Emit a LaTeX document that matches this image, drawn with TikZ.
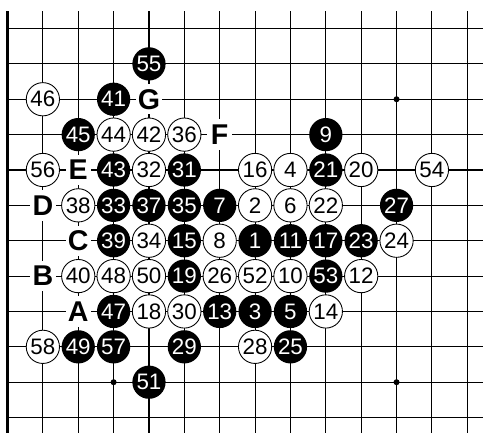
\documentclass[tikz,border=0pt]{standalone}
\usepackage{fontspec}
\setmainfont{Liberation Sans}
\begin{document}
\begin{tikzpicture}[
        x=1cm, y=-1cm,
        every node/.style={font=\fontsize{18}{20}\selectfont, inner sep=0pt},
        gridline/.style={line width=0.9pt, black},
        edgeline/.style={line width=2.4pt, black},
        wstone/.style={circle, draw=black, line width=0.7pt, fill=white, minimum size=0.94cm},
        bstone/.style={circle, fill=black, text=white, minimum size=0.94cm},
        letter/.style={rectangle, fill=white, minimum width=0.72cm, minimum height=0.86cm, font=\fontsize{23}{25}\selectfont\bfseries},
        hoshi/.style={circle, fill=black, minimum size=0.17cm}
    ]
        \useasboundingbox (-0.212,-0.806) rectangle (13.444,11.436);

        % Tablero: lineas y borde izquierdo
        \foreach \r in {0,...,11}
            \draw[gridline] (0,\r) -- (13.444,\r);
        \foreach \c in {1,...,13}
            \draw[gridline] (\c,-0.495) -- (\c,11.436);
        \draw[edgeline] (0,-0.495) -- (0,11.436);

        % Hoshi
        \node[hoshi] (h1) at (3,2) {};
        \node[hoshi] (h2) at (11,2) {};
        \node[hoshi] (h3) at (7,6) {};
        \node[hoshi] (h4) at (3,10) {};
        \node[hoshi] (h5) at (11,10) {};

        % Fila 1-3
        \node[bstone] (m55) at (4,1) {55};
        \node[wstone] (m46) at (1,2) {46};
        \node[bstone] (m41) at (3,2) {41};
        \node[letter] (lG) at (4,2) {G};
        \node[bstone] (m45) at (2,3) {45};
        \node[wstone] (m44) at (3,3) {44};
        \node[wstone] (m42) at (4,3) {42};
        \node[wstone] (m36) at (5,3) {36};
        \node[letter] (lF) at (6,3) {F};
        \node[bstone] (m9)  at (9,3) {9};

        % Fila 4
        \node[wstone] (m56) at (1,4) {56};
        \node[letter] (lE) at (2,4) {E};
        \node[bstone] (m43) at (3,4) {43};
        \node[wstone] (m32) at (4,4) {32};
        \node[bstone] (m31) at (5,4) {31};
        \node[wstone] (m16) at (7,4) {16};
        \node[wstone] (m4)  at (8,4) {4};
        \node[bstone] (m21) at (9,4) {21};
        \node[wstone] (m20) at (10,4) {20};
        \node[wstone] (m54) at (12,4) {54};

        % Fila 5
        \node[letter] (lD) at (1,5) {D};
        \node[wstone] (m38) at (2,5) {38};
        \node[bstone] (m33) at (3,5) {33};
        \node[bstone] (m37) at (4,5) {37};
        \node[bstone] (m35) at (5,5) {35};
        \node[bstone] (m7)  at (6,5) {7};
        \node[wstone] (m2)  at (7,5) {2};
        \node[wstone] (m6)  at (8,5) {6};
        \node[wstone] (m22) at (9,5) {22};
        \node[bstone] (m27) at (11,5) {27};

        % Fila 6
        \node[letter] (lC) at (2,6) {C};
        \node[bstone] (m39) at (3,6) {39};
        \node[wstone] (m34) at (4,6) {34};
        \node[bstone] (m15) at (5,6) {15};
        \node[wstone] (m8)  at (6,6) {8};
        \node[bstone] (m1)  at (7,6) {1};
        \node[bstone] (m11) at (8,6) {11};
        \node[bstone] (m17) at (9,6) {17};
        \node[bstone] (m23) at (10,6) {23};
        \node[wstone] (m24) at (11,6) {24};

        % Fila 7
        \node[letter] (lB) at (1,7) {B};
        \node[wstone] (m40) at (2,7) {40};
        \node[wstone] (m48) at (3,7) {48};
        \node[wstone] (m50) at (4,7) {50};
        \node[bstone] (m19) at (5,7) {19};
        \node[wstone] (m26) at (6,7) {26};
        \node[wstone] (m52) at (7,7) {52};
        \node[wstone] (m10) at (8,7) {10};
        \node[bstone] (m53) at (9,7) {53};
        \node[wstone] (m12) at (10,7) {12};

        % Fila 8
        \node[letter] (lA) at (2,8) {A};
        \node[bstone] (m47) at (3,8) {47};
        \node[wstone] (m18) at (4,8) {18};
        \node[wstone] (m30) at (5,8) {30};
        \node[bstone] (m13) at (6,8) {13};
        \node[bstone] (m3)  at (7,8) {3};
        \node[bstone] (m5)  at (8,8) {5};
        \node[wstone] (m14) at (9,8) {14};

        % Fila 9-10
        \node[wstone] (m58) at (1,9) {58};
        \node[bstone] (m49) at (2,9) {49};
        \node[bstone] (m57) at (3,9) {57};
        \node[bstone] (m29) at (5,9) {29};
        \node[wstone] (m28) at (7,9) {28};
        \node[bstone] (m25) at (8,9) {25};
        \node[bstone] (m51) at (4,10) {51};
    \end{tikzpicture}
\end{document}
